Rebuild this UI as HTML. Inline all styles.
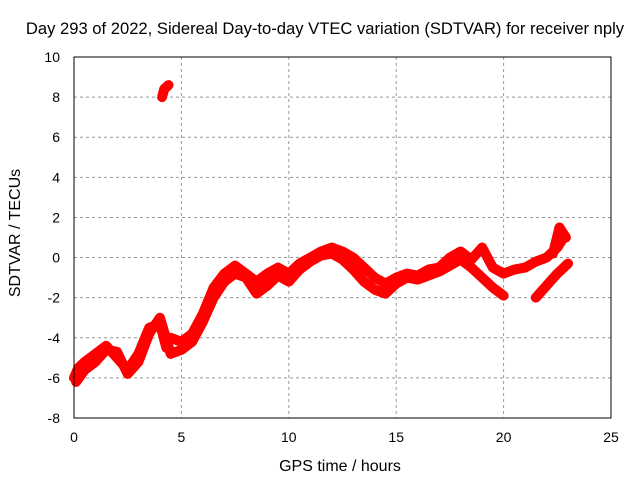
<!DOCTYPE html>
<html><head><meta charset="utf-8"><style>
body{margin:0;background:#fff}
svg text{font-family:"Liberation Sans",sans-serif;font-size:14px;fill:#000}
</style></head><body>
<svg width="640" height="480" id="c">
<rect width="640" height="480" fill="#fff"/>
<text x="325" y="34" text-anchor="middle" style="font-size:16.6px">Day 293 of 2022, Sidereal Day-to-day VTEC variation (SDTVAR) for receiver nply</text>
<text x="340" y="471" text-anchor="middle" style="font-size:16px">GPS time / hours</text>
<text transform="translate(20,233) rotate(-90)" text-anchor="middle" style="font-size:16px">SDTVAR / TECUs</text>
<g id="grid"></g><g id="ticks"></g><g id="data"></g>
<rect x="74" y="57" width="537" height="361" fill="none" stroke="#000"/>
</svg>
<script>
const xTicks=[0,5,10,15,20,25];
const yTicks=[-8,-6,-4,-2,0,2,4,6,8,10];
const t1=[0,0.2,0.5,1,1.5,2,2.5,3,3.5,4,4.3,4.5,5,5.5,6,6.5,7,7.5,8,8.5,9,9.5,10,10.5,11,11.5,12,12.5,13,13.5,14,14.5,15,15.5,16,16.5,17,17.5,18,18.5,19,19.5,20,20.5,21,21.5,22,22.5,22.8];
const v1=[-6.0,-5.5,-5.2,-4.8,-4.4,-5.0,-5.6,-4.8,-3.5,-3.3,-4.5,-4.0,-4.2,-3.8,-2.8,-1.5,-0.8,-0.4,-0.8,-1.2,-0.8,-0.5,-0.8,-0.3,0.0,0.3,0.5,0.3,0.0,-0.5,-1.0,-1.3,-1.0,-0.8,-0.9,-0.6,-0.5,0.0,0.3,-0.1,0.5,-0.5,-0.8,-0.6,-0.5,-0.2,0.0,0.5,1.0];
const t2=[0.1,0.5,1,1.5,2,2.5,3,3.5,4,4.5,5,5.5,6,6.5,7,7.5,8,8.5,9,9.5,10,10.5,11,11.5,12,12.5,13,13.5,14,14.5,15,15.5,16,16.5,17,17.5,18,18.5,19,19.5,20];
const v2=[-6.2,-5.6,-5.2,-4.6,-4.7,-5.8,-5.2,-3.8,-3.0,-4.8,-4.6,-4.2,-3.2,-2.0,-1.2,-0.8,-1.0,-1.8,-1.4,-0.9,-1.2,-0.6,-0.2,0.1,0.2,-0.1,-0.6,-1.2,-1.6,-1.8,-1.3,-1.0,-1.1,-0.9,-0.7,-0.4,-0.1,-0.5,-1.0,-1.5,-1.9];
const t3=[21.5,22,22.5,23];
const v3=[-2.0,-1.4,-0.8,-0.3];
const t4=[22.3,22.6,22.9];
const v4=[0.2,1.5,1.0];
const t5=[4.1,4.2,4.4];
const v5=[8.0,8.4,8.6];
const X=h=>74+h*537/25, Y=v=>418-(v+8)*361/18;
const NS="http://www.w3.org/2000/svg";
function mk(tag,attrs,parent){const e=document.createElementNS(NS,tag);for(const k in attrs)e.setAttribute(k,attrs[k]);document.getElementById(parent).appendChild(e);return e;}
xTicks.forEach(t=>{
 if(t>0&&t<25){const g=mk('line',{x1:X(t),x2:X(t),y1:57,y2:418,stroke:'#999','stroke-dasharray':'3,3'},'grid');
 
 }
 const l=mk('text',{x:X(t),y:442,'text-anchor':'middle'},'ticks');l.textContent=t;
 
 
});
yTicks.forEach(t=>{
 if(t>-8&&t<10){const g=mk('line',{x1:74,x2:611,y1:Y(t),y2:Y(t),stroke:'#999','stroke-dasharray':'3,3'},'grid');
 
 }
 const l=mk('text',{x:60,y:Y(t)+5,'text-anchor':'end'},'ticks');l.textContent=t;
 
 
});
[[t1,v1],[t2,v2],[t3,v3],[t4,v4],[t5,v5]].forEach(([ts,vs],i)=>{
 const p=mk('polyline',{points:ts.map((t,j)=>X(t)+','+Y(vs[j])).join(' '),fill:'none',stroke:'#f00','stroke-width':10,'stroke-linejoin':'round','stroke-linecap':'round'},'data');
 
 
});
</script>
</body></html>
